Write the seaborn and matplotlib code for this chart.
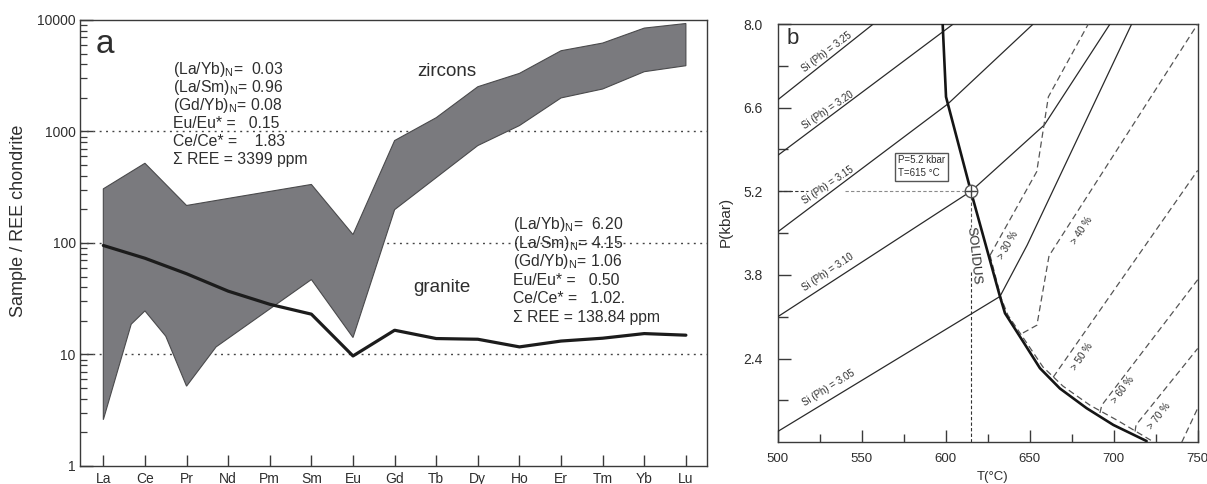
import numpy as np
import matplotlib
matplotlib.use("Agg")
import matplotlib.pyplot as plt
from matplotlib.ticker import FixedLocator, NullFormatter
import seaborn as sns

sns.set_theme(style="white")
plt.rcParams['font.family'] = ['Liberation Sans', 'DejaVu Sans']
plt.rcParams['mathtext.fontset'] = 'custom'
plt.rcParams['mathtext.rm'] = 'Liberation Sans'
plt.rcParams['mathtext.it'] = 'Liberation Sans:italic'

# ---------------- Panel a data ----------------
elements = ["La", "Ce", "Pr", "Nd", "Pm", "Sm", "Eu", "Gd", "Tb", "Dy", "Ho", "Er", "Tm", "Yb", "Lu"]
granite = [95, 73, 53, 37, 28.2, 23, 9.7, 16.5, 13.9, 13.7, 11.7, 13.2, 14.0, 15.4, 14.9]
zircon_upper = [306, 519, 217, 251, 290, 335, 119, 829, 1330, 2520, 3320, 5300, 6210, 8460, 9300]
zircon_lower_pos = [0, 0.67, 1, 1.5, 2, 2.71, 5, 6, 7, 9, 10, 11, 12, 13, 14]
zircon_lower = [2.6, 18.7, 24.6, 14.6, 5.2, 11.7, 47, 14.2, 199, 748, 1130, 2000, 2405, 3438, 3890]
y_ticks_a = [1, 10, 100, 1000, 10000]
y_ticklabels_a = ["1", "10", "100", "1000", "10000"]

zircon_text = [r"(La/Yb)$_{\mathregular{N}}$=  0.03",
               r"(La/Sm)$_{\mathregular{N}}$= 0.96",
               r"(Gd/Yb)$_{\mathregular{N}}$= 0.08",
               "Eu/Eu* =   0.15",
               "Ce/Ce* =    1.83",
               "Σ REE = 3399 ppm"]
granite_text = [r"(La/Yb)$_{\mathregular{N}}$=  6.20",
                r"(La/Sm)$_{\mathregular{N}}$= 4.15",
                r"(Gd/Yb)$_{\mathregular{N}}$= 1.06",
                "Eu/Eu* =   0.50",
                "Ce/Ce* =   1.02.",
                "Σ REE = 138.84 ppm"]

# ---------------- Panel b data ----------------
solidus_T = [598.2, 600.2, 615, 632.3, 635.3, 646.2, 656.1, 668.0, 683.9, 699.8, 719.6]
solidus_P = [8.0, 6.78, 5.2, 3.44, 3.16, 2.68, 2.24, 1.90, 1.57, 1.29, 1.02]
solidus2_T = [626.4, 632.9, 637.0, 647.8, 657.9, 669.8, 685.9, 702.6, 722.9]
solidus2_P = [4.13, 3.42, 3.13, 2.68, 2.26, 1.94, 1.62, 1.36, 1.02]

si325_T, si325_P = [500, 556.9], [6.73, 8.0]
si320_T, si320_P = [500, 604.5], [5.80, 8.0]
si315_T, si315_P = [500, 601.2, 652.1], [4.52, 6.66, 8.0]
si310_T, si310_P = [500, 615, 658.7, 697.8], [3.10, 5.2, 6.31, 8.0]
si305_T, si305_P = [500, 632.3, 648.5, 710.7], [1.18, 3.44, 4.3, 8.0]
si_names = ["3.25", "3.20", "3.15", "3.10", "3.05"]

melt30_T, melt30_P = [626.4, 654.2, 661.1, 684.9], [4.13, 5.53, 6.78, 8.0]
melt40_T, melt40_P = [646.0, 654.3, 661.5, 750], [2.83, 2.96, 4.12, 8.0]
melt50_T, melt50_P = [664.0, 750], [2.09, 5.55]
melt60_T, melt60_P = [691.8, 692.9, 750], [1.49, 1.62, 3.72]
melt70_T, melt70_P = [712.7, 713.3, 750], [1.18, 1.29, 2.57]
melt80_T, melt80_P = [740.5, 750], [1.0, 1.57]
melt_names = ["> 30 %", "> 40 %", "> 50 %", "> 60 %", "> 70 %"]

point_T, point_P = 615, 5.2
x_ticks_b = [500, 550, 600, 650, 700, 750]
x_minor_b = [525, 575, 625, 675, 725]
y_ticks_b = [2.4, 3.8, 5.2, 6.6, 8.0]
y_minor_b = [1.7, 3.1, 4.5, 5.9, 7.3]

# ---------------- Figure ----------------
TXT = '#2e2e2e'
SP = '#3a3a3a'
fig = plt.figure(figsize=(12.07, 4.84), dpi=100)
axa = fig.add_axes([0.0663, 0.0372, 0.5192, 0.9215])
axb = fig.add_axes([0.6443, 0.0862, 0.3480, 0.8642])

# ----- panel a -----
xi = list(range(len(elements)))
poly_x = xi + zircon_lower_pos[::-1]
poly_y = zircon_upper + zircon_lower[::-1]
axa.fill(poly_x, poly_y, facecolor='#7a7a7e', edgecolor='#4a4a4c', lw=0.8, zorder=2)
sns.lineplot(x=xi, y=granite, ax=axa, color='#1c1c1c', lw=2.3, zorder=4,
             estimator=None, sort=False)
axa.set_yscale('log')
axa.set_ylim(1, 10000)
axa.set_xlim(-0.56, 14.5)
for v in [10, 100, 1000]:
    axa.axhline(v, color='#444444', lw=1.0, ls=(0, (1.4, 3.2)), zorder=1)
axa.set_xticks(xi)
axa.set_xticklabels(elements)
axa.yaxis.set_major_locator(FixedLocator(y_ticks_a))
axa.set_yticklabels(y_ticklabels_a)
minors = [m * 10 ** e for e in range(0, 4) for m in range(2, 10)]
axa.yaxis.set_minor_locator(FixedLocator(minors))
axa.yaxis.set_minor_formatter(NullFormatter())
axa.tick_params(axis='x', which='major', direction='in', bottom=True, length=8, width=1,
                color=SP, labelsize=10, labelcolor=TXT, pad=4)
axa.tick_params(axis='y', which='major', direction='in', left=True, length=9, width=1,
                color=SP, labelsize=10, labelcolor=TXT, pad=3)
axa.tick_params(axis='y', which='minor', direction='in', left=True, length=5, width=0.9,
                color=SP)
for s in axa.spines.values():
    s.set_color(SP)
    s.set_linewidth(1.0)
axa.set_ylabel("Sample / REE chondrite", fontsize=13, color=TXT)
axa.yaxis.set_label_coords(-0.0846, 0.549)
axa.set_xlabel("")
axa.text(0.0399, 0.946, "a", transform=axa.transAxes, fontsize=24, color=TXT,
         ha='center', va='center')
axa.text(0.5856, 0.884, "zircons", transform=axa.transAxes, fontsize=13.5, color=TXT,
         ha='center', va='center')
axa.text(0.5771, 0.4007, "granite", transform=axa.transAxes, fontsize=13.5, color=TXT,
         ha='center', va='center')
for i, t in enumerate(zircon_text):
    axa.text(0.1484, 0.8879 - i * 0.0403, t, transform=axa.transAxes, fontsize=11.3,
             color=TXT, ha='left', va='center')
for i, t in enumerate(granite_text):
    axa.text(0.6914, 0.5404 - i * 0.0413, t, transform=axa.transAxes, fontsize=11.3,
             color=TXT, ha='left', va='center')

# ----- panel b -----
def line(T, P, **kw):
    sns.lineplot(x=T, y=P, ax=axb, estimator=None, sort=False, **kw)

for T, P in [(si325_T, si325_P), (si320_T, si320_P), (si315_T, si315_P),
             (si310_T, si310_P), (si305_T, si305_P)]:
    line(T, P, color='#2a2a2a', lw=0.9, zorder=3)

dash = (0, (5, 3))
for T, P in [(melt30_T, melt30_P), (melt40_T, melt40_P), (melt50_T, melt50_P),
             (melt60_T, melt60_P), (melt70_T, melt70_P), (melt80_T, melt80_P),
             (solidus2_T, solidus2_P)]:
    line(T, P, color='#555555', lw=0.9, ls=dash, zorder=3)

line(solidus_T, solidus_P, color='#151515', lw=1.9, zorder=4)

# guide lines to the P-T point
axb.plot([500, 518], [point_P, point_P], color='#333333', lw=0.8, ls=(0, (3, 2)), zorder=2)
axb.plot([540, point_T], [point_P, point_P], color='#8a8a8a', lw=0.8, ls=(0, (3, 2)), zorder=2)
axb.plot([point_T, point_T], [point_P, 4.6], color='#5a5a5a', lw=0.8, ls=(0, (3, 2)), zorder=2)
axb.plot([point_T, point_T], [3.85, 1.0], color='#333333', lw=0.8, ls=(0, (3, 2)), zorder=2)
axb.plot([point_T], [point_P], marker='o', ms=9, mfc='white', mec='#555555', mew=1.0, zorder=6)
axb.plot([point_T], [point_P], marker='+', ms=8, mec='#444444', mew=1.0, zorder=7)

axb.text(571.5, 5.61, "P=5.2 kbar\nT=615 °C", fontsize=7, color=TXT, ha='left', va='center',
         linespacing=1.35,
         bbox=dict(boxstyle='square,pad=0.3', fc='white', ec='#555555', lw=1.0))

axb.text(616.4, 4.13, "SOLIDUS", fontsize=9.5, color=TXT, rotation=-84,
         ha='center', va='center', rotation_mode='anchor')

si_pos = [(529.2, 7.53, 37), (529.9, 6.56, 34), (530.1, 5.31, 34), (529.9, 3.85, 34),
          (530.1, 1.91, 32)]
for name, (tx, py, rot) in zip(si_names, si_pos):
    axb.text(tx, py, f"Si (Ph) = {name}", fontsize=7, color=TXT, rotation=rot,
             ha='center', va='center', rotation_mode='anchor')

melt_pos = [(637.1, 4.30, 60), (681.0, 4.54, 57), (681.0, 2.43, 56), (705.5, 1.88, 53),
            (727.0, 1.44, 52)]
for name, (tx, py, rot) in zip(melt_names, melt_pos):
    axb.text(tx, py, name, fontsize=7, color=TXT, rotation=rot,
             ha='center', va='center', rotation_mode='anchor')

axb.text(0.036, 0.965, "b", transform=axb.transAxes, fontsize=16, color=TXT,
         ha='center', va='center')

axb.set_xlim(500, 750)
axb.set_ylim(1.0, 8.0)
axb.set_xticks(x_ticks_b)
axb.set_xticklabels([str(v) for v in x_ticks_b])
axb.xaxis.set_minor_locator(FixedLocator(x_minor_b))
axb.set_yticks(y_ticks_b)
axb.set_yticklabels([f"{v:.1f}" for v in y_ticks_b])
axb.yaxis.set_minor_locator(FixedLocator(y_minor_b))
axb.tick_params(axis='x', which='major', direction='in', bottom=True, length=9, width=1,
                color=SP, labelsize=9.5, labelcolor=TXT, pad=8)
axb.tick_params(axis='x', which='minor', direction='in', bottom=True, length=6, width=1,
                color=SP)
axb.tick_params(axis='y', which='major', direction='in', left=True, length=9, width=1,
                color=SP, labelsize=10, labelcolor=TXT, pad=11)
axb.tick_params(axis='y', which='minor', direction='in', left=True, length=7, width=1,
                color=SP)
for s in axb.spines.values():
    s.set_color(SP)
    s.set_linewidth(1.0)
axb.set_xlabel("T(°C)", fontsize=9.5, color=TXT)
axb.xaxis.set_label_coords(0.512, -0.069)
axb.set_ylabel("P(kbar)", fontsize=11, color=TXT)
axb.yaxis.set_label_coords(-0.106, 0.527)

fig.savefig("out.png", dpi=100, facecolor='white')
